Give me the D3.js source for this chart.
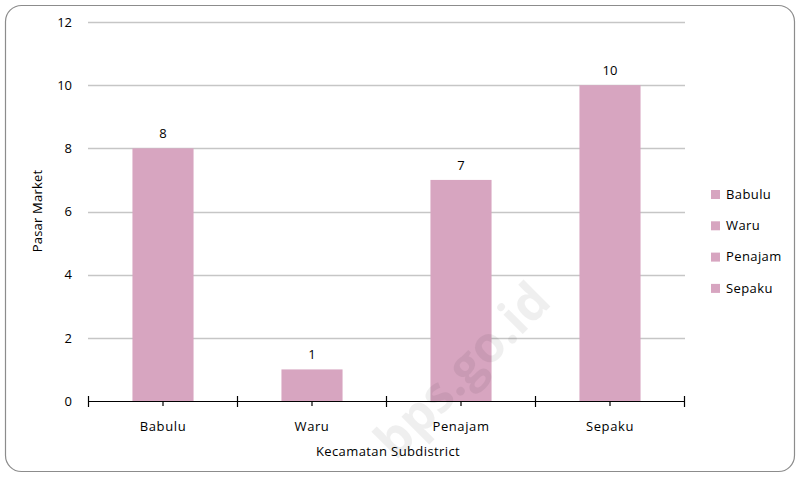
<!DOCTYPE html>
<html><head><meta charset="utf-8">
<script src="https://cdn.jsdelivr.net/npm/d3@7"></script>
<style>body{margin:0;background:#fff;} text{font-family:"Open Sans",Lato,sans-serif;}</style>
</head><body>
<svg id="c" width="799" height="478"></svg>
<script>
const categories = ["Babulu","Waru","Penajam","Sepaku"];
const values = [8,1,7,10];
const yTicks = [0,2,4,6,8,10,12];
const yTitle = "Pasar Market";
const xTitle = "Kecamatan Subdistrict";
const barColor = "#d7a5c0";

const svg = d3.select("#c");
svg.append("rect").attr("x",5.5).attr("y",5.5).attr("width",789).attr("height",466)
  .attr("rx",16).attr("fill","#fff").attr("stroke","#8c8c8c").attr("stroke-width",1.2);

const x = d3.scaleBand().domain(categories).range([88.5,684.5]).paddingInner(0.59).paddingOuter(0.295);
const y = d3.scaleLinear().domain([0,12]).range([401,22]);

// gridlines
svg.append("g").selectAll("line").data(yTicks.filter(d=>d>0)).join("line")
  .attr("x1",88).attr("x2",685).attr("y1",d=>Math.round(y(d))+0.5).attr("y2",d=>Math.round(y(d))+0.5)
  .attr("stroke","#c6c6c6").attr("stroke-width",1.3);

// y labels
svg.append("g").selectAll("text").data(yTicks).join("text")
  .attr("x",72).attr("y",d=>y(d)).attr("dy","0.36em").attr("text-anchor","end")
  .attr("font-size",13).attr("fill","#000").text(d=>d);

// bars
svg.append("g").selectAll("rect").data(values).join("rect")
  .attr("x",(d,i)=>x(categories[i])).attr("width",x.bandwidth())
  .attr("y",d=>y(d)).attr("height",d=>y(0)-y(d)).attr("fill",barColor);

// value labels
svg.append("g").selectAll("text").data(values).join("text")
  .attr("x",(d,i)=>x(categories[i])+x.bandwidth()/2).attr("y",d=>y(d)-10)
  .attr("text-anchor","middle").attr("font-size",13).attr("fill","#000").text(d=>d);

// x axis
const ax = svg.append("g");
ax.append("line").attr("x1",88).attr("x2",685).attr("y1",401.5).attr("y2",401.5).attr("stroke","#000").attr("stroke-width",1.2);
const step = x.step();
const bounds = d3.range(categories.length+1).map(i=>88.5+i*step);
ax.selectAll("line.b").data(bounds).join("line").attr("class","b")
  .attr("x1",d=>d).attr("x2",d=>d).attr("y1",396).attr("y2",407).attr("stroke","#000").attr("stroke-width",1.2);
ax.selectAll("line.m").data(categories).join("line").attr("class","m")
  .attr("x1",d=>x(d)+x.bandwidth()/2).attr("x2",d=>x(d)+x.bandwidth()/2).attr("y1",401).attr("y2",406).attr("stroke","#000").attr("stroke-width",1.2);
ax.selectAll("text").data(categories).join("text")
  .attr("x",d=>x(d)+x.bandwidth()/2).attr("y",431).attr("text-anchor","middle")
  .attr("font-size",13).attr("letter-spacing",0.6).attr("fill","#000").text(d=>d);

svg.append("text").attr("x",388).attr("y",456).attr("text-anchor","middle").attr("font-size",13).attr("letter-spacing",0.4).text(xTitle);
svg.append("text").attr("transform","translate(42,211) rotate(-90)").attr("text-anchor","middle").attr("font-size",13).attr("letter-spacing",0.2).text(yTitle);

// legend
const lg = svg.append("g");
categories.forEach((c,i)=>{
  const yy = 194 + i*31.3;
  lg.append("rect").attr("x",711).attr("y",yy-4).attr("width",9).attr("height",9).attr("fill",barColor);
  lg.append("text").attr("x",726).attr("y",yy).attr("dy","0.36em").attr("font-size",13).attr("letter-spacing",0.4).text(c);
});

// watermark
svg.append("text").attr("transform","translate(462,370) rotate(-45)")
  .attr("text-anchor","middle").attr("dy","0.35em").attr("font-size",50).attr("font-weight","bold")
  .attr("fill","#000").attr("opacity",0.06).text("bps.go.id");
</script>
</body></html>
